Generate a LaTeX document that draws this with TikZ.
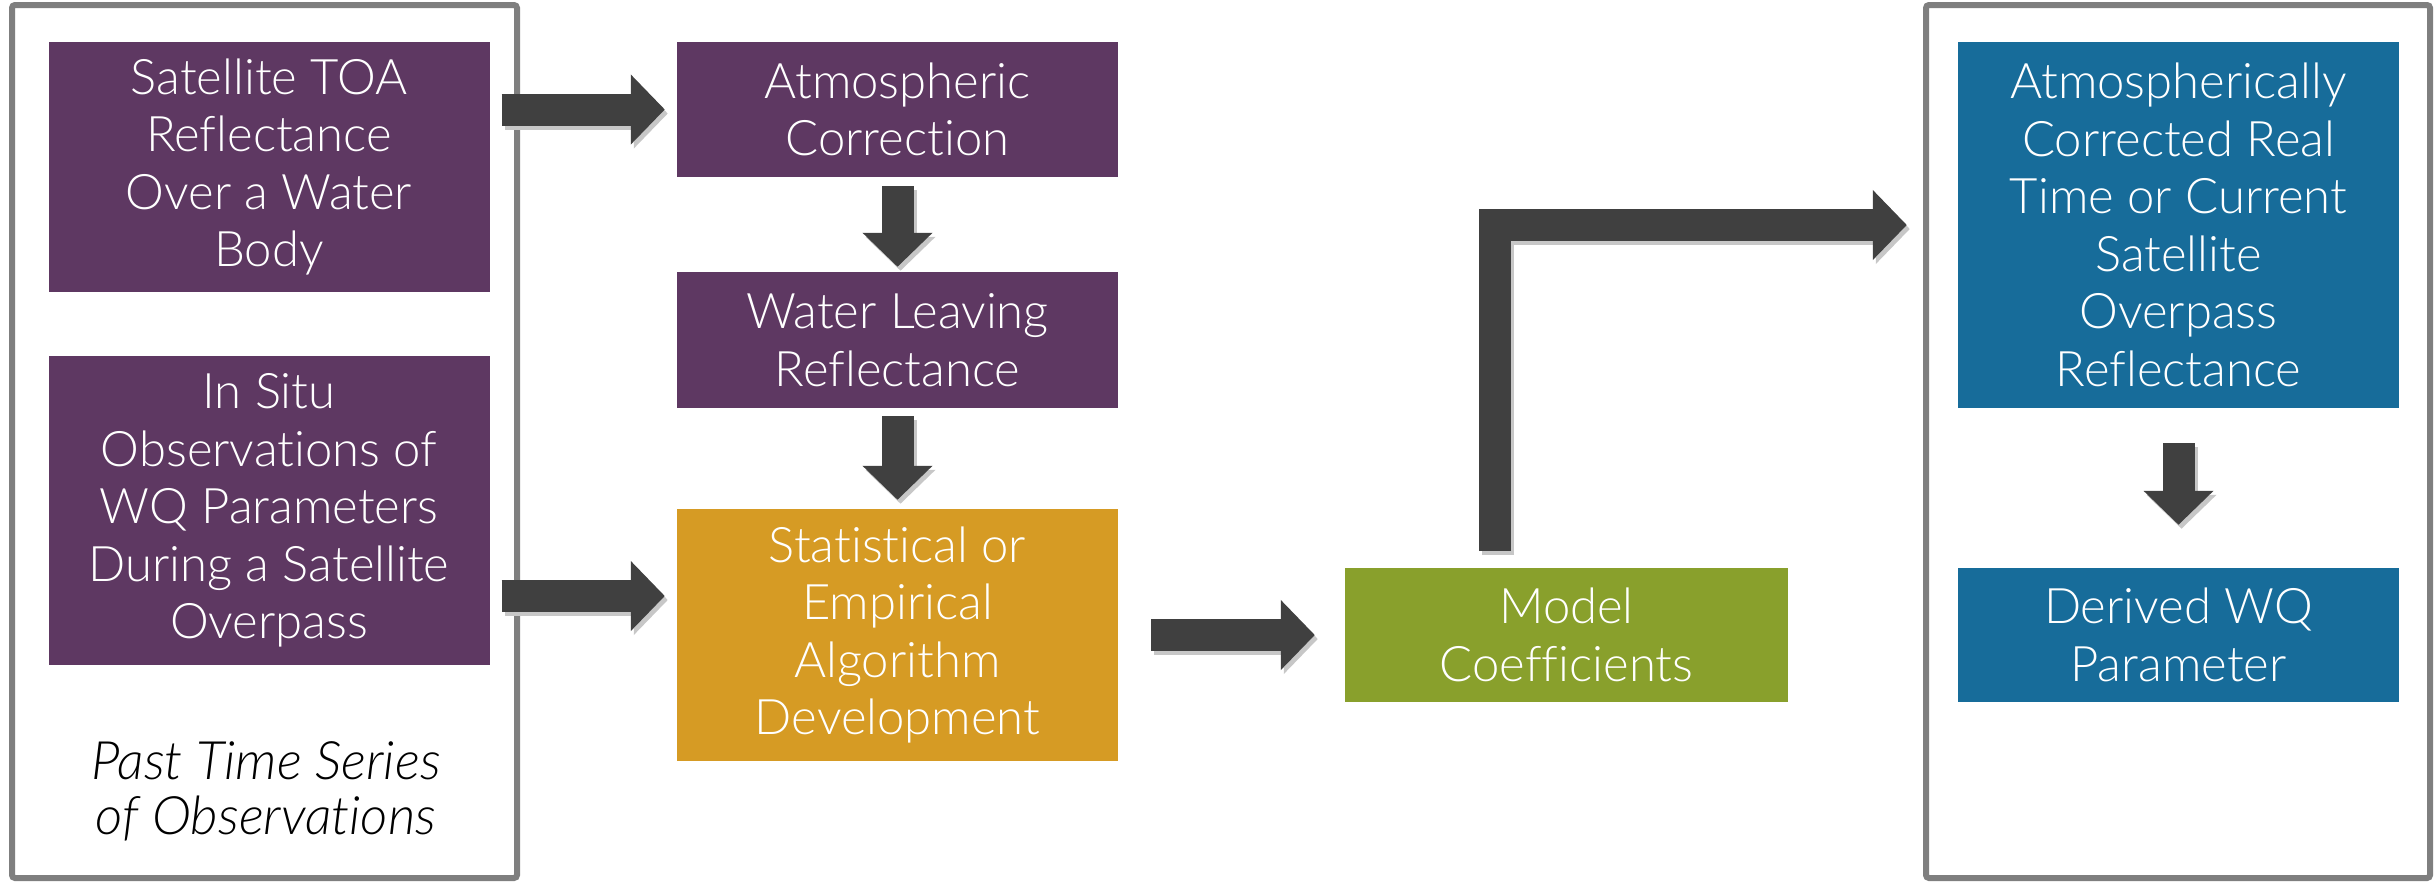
\documentclass[tikz,border=0pt]{standalone}
\usepackage{fontspec}
\setmainfont{Lato}[UprightFont=* Light, ItalicFont=* Light Italic, BoldFont=* Regular, Ligatures={NoCommon}]
\usetikzlibrary{arrows.meta,calc}
\definecolor{purp}{HTML}{5E3862}
\definecolor{orng}{HTML}{D69B24}
\definecolor{grn}{HTML}{89A02C}
\definecolor{blu}{HTML}{176C9A}
\definecolor{arr}{HTML}{404040}
\definecolor{frm}{HTML}{7F7F7F}
\tikzset{
  box/.style={draw=none, text=white, align=center, inner sep=0pt,
    minimum width=441pt, font=\fontsize{49}{57.5}\selectfont},
  frame/.style={draw=frm, line width=6pt, rounded corners=3pt, fill=white},
  blockarrow/.style={draw=arr, line width=32pt, line join=miter,
    -{Triangle[width=68pt,length=34pt]}},
  blockshadow/.style={draw=black!22, line width=32pt, line join=miter,
    -{Triangle[width=68pt,length=34pt]}, transform canvas={xshift=3pt,yshift=-4pt}},
}
\begin{document}
\begin{tikzpicture}[x=1pt,y=-1pt]
\useasboundingbox (0,0) rectangle (2435,884);
% frames
\draw[frame] (12,5) rectangle (517,878);
\draw[frame] (1926,5) rectangle (2430,878);
% nodes
\node[box, fill=purp, minimum height=250pt] (toa) at (269,167) {Satellite TOA\\Reflectance\\Over a Water\\Body};
\node[box, fill=purp, minimum height=309pt] (insitu) at (269,510.5) {In Situ\\Observations of\\WQ Parameters\\During a Satellite\\Overpass};
\node[align=center, text=black, inner sep=0pt, font=\fontsize{53}{55}\selectfont\itshape] (past) at (266,791) {Past Time Series\\of Observations};
\node[box, fill=purp, minimum height=135pt] (atm) at (897.5,109.5) {Atmospheric\\Correction};
\node[box, fill=purp, minimum height=136pt] (wat) at (897.5,340) {Water Leaving\\Reflectance};
\node[box, fill=orng, minimum height=252pt] (stat) at (897.5,635) {Statistical or\\Empirical\\Algorithm\\Development};
\node[box, fill=grn, minimum height=134pt, minimum width=443pt] (mc) at (1566.5,635) {Model\\Coefficients};
\node[box, fill=blu, minimum height=366pt] (acr) at (2178.5,225) {Atmospherically\\Corrected Real\\Time or Current\\Satellite\\Overpass\\Reflectance};
\node[box, fill=blu, minimum height=134pt] (der) at (2178.5,635) {Derived WQ\\Parameter};
% coordinates for arrow rows
\coordinate (r1) at (0,596);
\coordinate (ebs) at (1495,551);
% connectors (shadow then arrow)
\foreach \st in {blockshadow,blockarrow}{
  \draw[\st, shorten <=12pt, shorten >=12pt] (toa.east |- atm.west) -- (atm.west);
  \draw[\st, shorten <=12pt, shorten >=12pt] (insitu.east |- r1) -- (stat.west |- r1);
  \draw[\st, shorten <=33pt, shorten >=30pt] (stat.east) -- (mc.west);
  \draw[\st, shorten <=9pt, shorten >=5pt] (atm.south) -- (wat.north);
  \draw[\st, shorten <=8pt, shorten >=9pt] (wat.south) -- (stat.north);
  \draw[\st, shorten <=35pt, shorten >=43pt] (acr.south) -- (der.north);
  \draw[\st, shorten >=51pt] (ebs) |- (acr.west);
}
\end{tikzpicture}
\end{document}
